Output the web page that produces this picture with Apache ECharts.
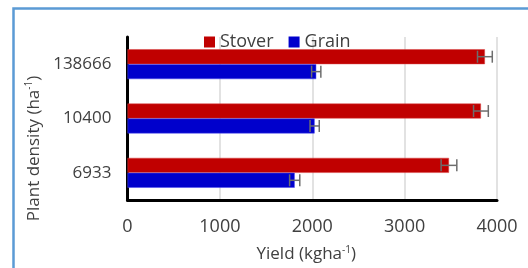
<!DOCTYPE html>
<html>
<head>
<meta charset="utf-8">
<script src="https://cdn.jsdelivr.net/npm/echarts@6/dist/echarts.min.js"></script>
<style>
html,body{margin:0;padding:0;background:#fff;overflow:hidden;}
#c{width:528px;height:268px;}
</style>
</head>
<body>
<div id="c"></div>
<script>
const categories = ['6933', '10400', '138666'];
const stover = [3480, 3826, 3869];
const stoverErr = [85, 80, 80];
const grain = [1810, 2026, 2043];
const grainErr = [55, 50, 50];
const xTicks = [0, 1000, 2000, 3000, 4000];

const FONT = '"Open Sans", sans-serif';
const BAR_FRAC = 0.275;

function errSeries(name, values, errs, sign) {
  return {
    name: name + ' err',
    type: 'custom',
    z: 5,
    silent: true,
    data: values.map((v, i) => [v, errs[i], i]),
    renderItem: function (params, api) {
      const v = api.value(0), e = api.value(1), ci = api.value(2);
      const band = api.size([0, 1])[1];
      const off = sign * band * BAR_FRAC / 2;
      const lo = api.coord([v - e, ci]);
      const hi = api.coord([v + e, ci]);
      const y = lo[1] + off;
      const cap = 6;
      const st = {stroke: '#6d6d6d', lineWidth: 1.5};
      return {
        type: 'group',
        children: [
          {type: 'line', shape: {x1: lo[0], y1: y, x2: hi[0], y2: y}, style: st},
          {type: 'line', shape: {x1: lo[0], y1: y - cap, x2: lo[0], y2: y + cap}, style: st},
          {type: 'line', shape: {x1: hi[0], y1: y - cap, x2: hi[0], y2: y + cap}, style: st}
        ]
      };
    }
  };
}

const chart = echarts.init(document.getElementById('c'), null, {renderer: 'canvas'});
chart.setOption({
  animation: false,
  textStyle: {fontFamily: FONT},
  graphic: [{
    type: 'polyline',
    shape: {points: [[13.5, 268], [13.5, 8.5], [528, 8.5]]},
    style: {fill: null, stroke: '#5B9BD5', lineWidth: 2.5},
    z: 0
  }],
  legend: {
    data: ['Stover', 'Grain'],
    left: 199,
    top: 28,
    itemWidth: 11,
    itemHeight: 11,
    itemGap: 15,
    icon: 'rect',
    itemStyle: {borderWidth: 0},
    textStyle: {fontSize: 18, color: '#404040', fontFamily: FONT}
  },
  grid: {left: 127.5, right: 31, top: 37, bottom: 55},
  xAxis: {
    type: 'value',
    min: xTicks[0],
    max: xTicks[xTicks.length - 1],
    interval: 1000,
    axisLine: {show: true, lineStyle: {color: '#000', width: 3}},
    axisTick: {show: false},
    axisLabel: {fontSize: 18, color: '#404040', margin: 18, fontFamily: FONT,
      formatter: function (v) { return String(v); }},
    splitLine: {show: true, lineStyle: {color: '#D9D9D9', width: 1.5}},
    name: '{a|Yield (kgha}{s|-1}{a|)}',
    nameLocation: 'middle',
    nameGap: 45,
    nameTextStyle: {
      padding: [0, 12, 0, 0],
      rich: {
        a: {fontSize: 17, color: '#404040', fontFamily: FONT},
        s: {fontSize: 10, color: '#404040', fontFamily: FONT, padding: [0, 0, 9, 0]}
      }
    }
  },
  yAxis: {
    type: 'category',
    data: categories,
    axisLine: {show: true, lineStyle: {color: '#000', width: 3}},
    axisTick: {show: false},
    axisLabel: {fontSize: 17, color: '#404040', margin: 16, fontFamily: FONT},
    splitLine: {show: false},
    name: '{a|Plant density (ha}{s|-1}{a|)}',
    nameLocation: 'middle',
    nameGap: 84,
    nameRotate: 90,
    nameTextStyle: {
      padding: [0, 60, 0, 0],
      rich: {
        a: {fontSize: 17, color: '#404040', fontFamily: FONT},
        s: {fontSize: 10, color: '#404040', fontFamily: FONT, padding: [0, 0, 9, 0]}
      }
    }
  },
  series: [
    {
      name: 'Stover', type: 'bar', data: stover,
      barWidth: (BAR_FRAC * 100) + '%', barGap: '0%',
      itemStyle: {color: '#C00000', borderColor: '#D84040', borderWidth: 0.5}
    },
    {
      name: 'Grain', type: 'bar', data: grain,
      barWidth: (BAR_FRAC * 100) + '%', barGap: '0%',
      itemStyle: {color: '#0000CC', borderColor: '#4a4af0', borderWidth: 0.5}
    },
    errSeries('Stover', stover, stoverErr, -1),
    errSeries('Grain', grain, grainErr, 1)
  ]
});
</script>
</body>
</html>
